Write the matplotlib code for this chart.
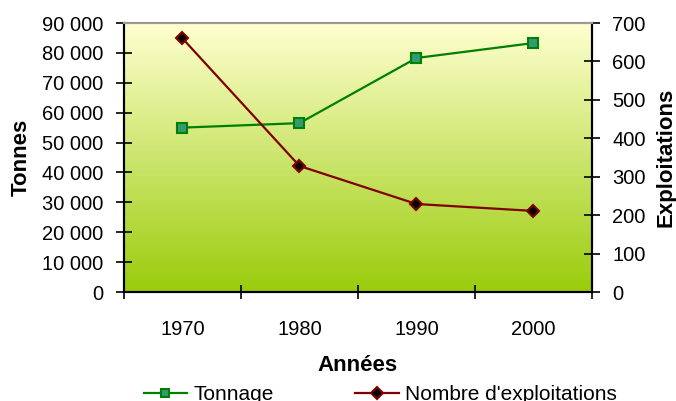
import numpy as np
import matplotlib.pyplot as plt
from matplotlib.colors import LinearSegmentedColormap
from matplotlib.ticker import FuncFormatter, MultipleLocator
from matplotlib.lines import Line2D

plt.rcParams['font.family'] = ['Liberation Sans', 'DejaVu Sans']

annees = ['1970', '1980', '1990', '2000']
tonnage = [55000, 56500, 78300, 83300]
exploitations = [660, 328, 229, 211]

fig = plt.figure(figsize=(6.76, 4.01), dpi=100)
ax = fig.add_axes([0.1834, 0.2718, 0.6923, 0.6708])
ax2 = ax.twinx()

# fond en degrade
cmap = LinearSegmentedColormap.from_list('fond', ['#9ACC0C', '#FFFFCF'])
grad = np.linspace(0, 1, 256).reshape(-1, 1)
ax.imshow(grad, cmap=cmap, aspect='auto', origin='lower',
          extent=[0, 1, 0, 1], transform=ax.transAxes, zorder=0)

x = np.arange(len(annees))
ax.plot(x, tonnage, color='#008000', lw=1.6, marker='s', ms=6.5,
        mfc='#339977', mec='#008000', mew=1.5, zorder=3)
ax2.plot(x, exploitations, color='#800000', lw=1.6, marker='D', ms=6.5,
         mfc='black', mec='#800000', mew=1.5, zorder=3)

ax.set_xlim(-0.5, 3.5)
ax.set_ylim(0, 90000)
ax2.set_ylim(0, 700)
ax.yaxis.set_major_locator(MultipleLocator(10000))
ax2.yaxis.set_major_locator(MultipleLocator(100))
ax.yaxis.set_major_formatter(FuncFormatter(lambda v, p: f'{int(v):,}'.replace(',', ' ')))

ax.set_xticks(np.arange(-0.5, 4, 1))
ax.set_xticklabels([])
ax.set_xticks(x, minor=True)
ax.set_xticklabels(annees, minor=True)
ax.tick_params(axis='x', which='minor', length=0, pad=20, labelsize=14.5)
ax.tick_params(axis='x', which='major', direction='inout', length=10, width=1.2)
ax.tick_params(axis='y', direction='inout', length=11, width=1.2, labelsize=14.5, pad=9.5)
ax2.tick_params(axis='y', direction='inout', length=11, width=1.2, labelsize=14.5, pad=9)

for a in (ax, ax2):
    a.spines['top'].set_color('#999999')
    a.spines['top'].set_linewidth(1.5)
    for s in ('left', 'right', 'bottom'):
        a.spines[s].set_linewidth(1.5)

ax.set_xlabel('Années', fontsize=16, fontweight='bold', labelpad=12)
ax.set_ylabel('Tonnes', fontsize=16, fontweight='bold', labelpad=7)
ax2.set_ylabel('Exploitations', fontsize=16, fontweight='bold', labelpad=7)

handles = [
    Line2D([], [], color='#008000', lw=1.6, marker='s', ms=6, mfc='#339977', mec='#008000', mew=1.5),
    Line2D([], [], color='#800000', lw=1.6, marker='D', ms=6, mfc='black', mec='#800000', mew=1.5),
]
fig.legend(handles, ['Tonnage', "Nombre d'exploitations"], loc='center',
           bbox_to_anchor=(0.5625, 0.015), ncol=2, frameon=False, fontsize=15,
           handlelength=2.1, handletextpad=0.3, columnspacing=3.9)

fig.savefig('out.png', dpi=100)
